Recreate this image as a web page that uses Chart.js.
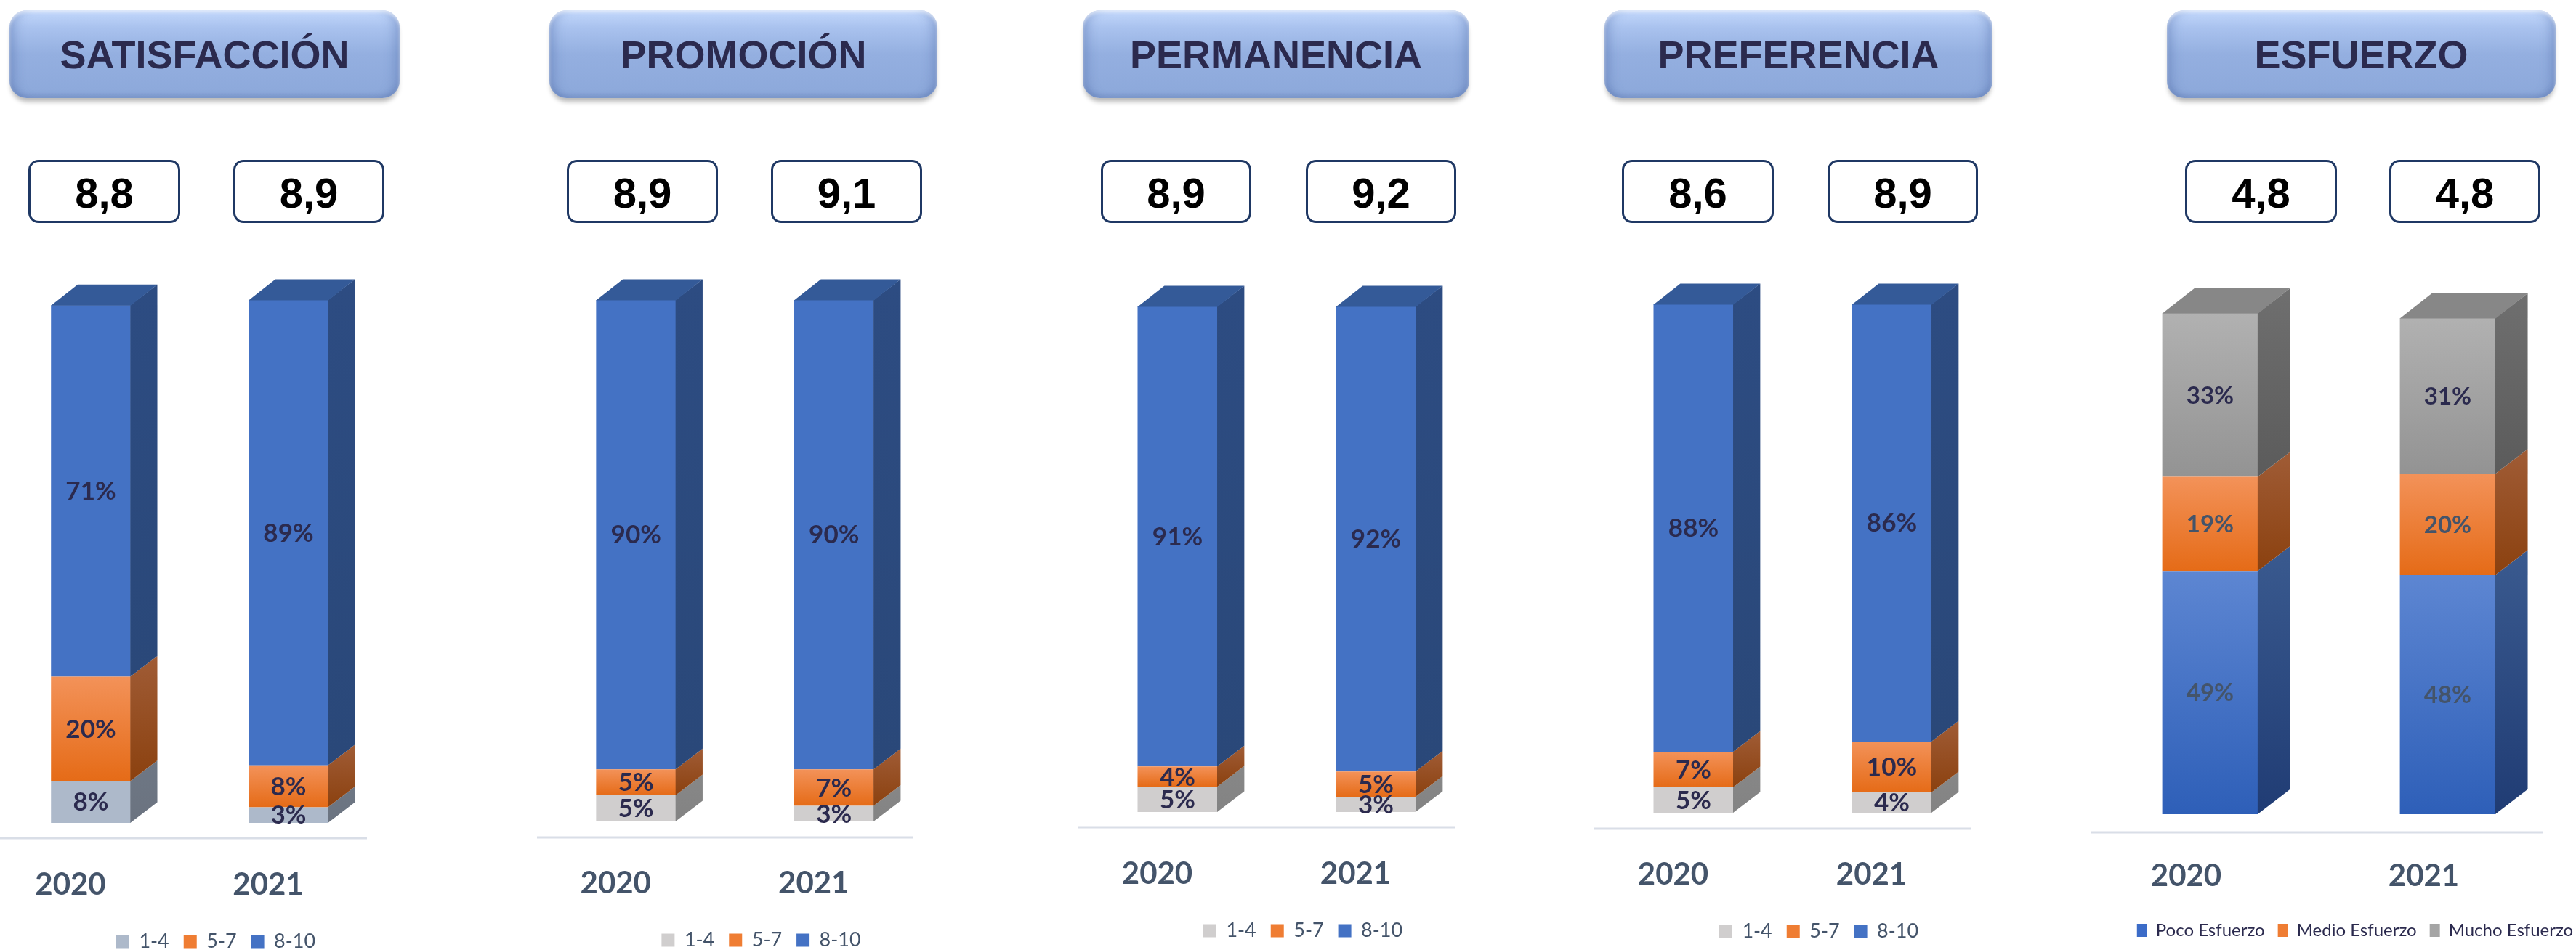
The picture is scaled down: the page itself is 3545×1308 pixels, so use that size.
<!DOCTYPE html>
<html>
<head>
<meta charset="utf-8">
<script src="https://cdn.jsdelivr.net/npm/chart.js@4.4.1/dist/chart.umd.min.js"></script>
<style>
  html, body { margin: 0; padding: 0; background: #fff; }
  body { position: relative; width: 3545px; height: 1308px; overflow: hidden; font-family: 'Liberation Sans', Arial, sans-serif; }
  .head {
    position: absolute; top: 14px; height: 121px; border-radius: 24px;
    background: linear-gradient(180deg, #c3d8fc 0%, #a9c2ee 20%, #94afe0 50%, #8ca8da 100%);
    box-shadow: 0 7px 6px -2px rgba(0,0,0,.28),
      inset 0 3px 4px rgba(255,255,255,.6),
      inset 0 -4px 6px rgba(70,100,160,.25),
      inset 16px 0 14px -8px rgba(80,110,170,.35),
      inset -16px 0 14px -8px rgba(80,110,170,.35);
    display: flex; align-items: center; justify-content: center;
    font-weight: bold; font-size: 54px; color: #2b2a4e;
  }
  .score {
    position: absolute; top: 220px; height: 87px; box-sizing: border-box;
    border: 3px solid #1f3864; border-radius: 14px; background: #fff;
    display: flex; align-items: center; justify-content: center; padding-top: 4px;
    font-weight: bold; font-size: 58px; color: #000;
  }
  canvas { position: absolute; top: 340px; }
</style>
</head>
<body>
<script>
// ---- data ----
const years = ['2020', '2021'];
const rangeLabels = ['1-4', '5-7', '8-10'];
const effortLabels = ['Poco Esfuerzo', 'Medio Esfuerzo', 'Mucho Esfuerzo'];
const titles = ['SATISFACCIÓN', 'PROMOCIÓN', 'PERMANENCIA', 'PREFERENCIA', 'ESFUERZO'];
const score2020 = [8.8, 8.9, 8.9, 8.6, 4.8];
const score2021 = [8.9, 9.1, 9.2, 8.9, 4.8];

const satisfaccion14 = [8, 3];
const satisfaccion57 = [20, 8];
const satisfaccion810 = [71, 89];

const promocion14 = [5, 3];
const promocion57 = [5, 7];
const promocion810 = [90, 90];

const permanencia14 = [5, 3];
const permanencia57 = [4, 5];
const permanencia810 = [91, 92];

const preferencia14 = [5, 4];
const preferencia57 = [7, 10];
const preferencia810 = [88, 86];

// 2021 bar reads a little off its rounded labels (48 / 20 / 31)
const esfuerzoPoco = [49, 48.2];
const esfuerzoMedio = [19, 20.4];
const esfuerzoMucho = [33, 31.4];

// ---- styles ----
const PAL = {
    blue: { front: ['#4472c4', '#4472c4'], side: ['#2d4c82', '#2a4879'], top: '#345a98', legend: '#4472c4' },
    orange: { front: ['#f39259', '#e56b17'], side: ['#a05c36', '#8b410f'], top: '#c0662a', legend: '#ef7d33' },
    slate: { front: ['#adb9ca', '#adb9ca'], side: ['#6e7784', '#6b7380'], top: '#8a95a5', legend: '#adb9ca' },
    silver: { front: ['#d0cece', '#d0cece'], side: ['#878787', '#838383'], top: '#a8a6a6', legend: '#d0cece' },
    grayGrad: { front: ['#b1b1b1', '#939393'], side: ['#6f6f6f', '#5b5b5b'], top: '#878787', legend: '#a5a5a5' },
    blueGrad: { front: ['#5d86d2', '#2e5fb8'], side: ['#3a5a8f', '#203c74'], top: '#3a5fa5', legend: '#3c6cc8' },
};
const NAVY = '#2b2a4e';
const SLATE_TXT = '#44546a';

const panels = [
    { series: [satisfaccion14, satisfaccion57, satisfaccion810], names: rangeLabels,
      colors: [PAL.slate, PAL.orange, PAL.blue], labelColors: [NAVY, NAVY, NAVY],
      head: [13, 550], boxes: [[39, 248], [321, 529]], area: [-11.5, 544, 413, 1133],
      shift: 28, floor: 21, labelSize: 35, legendBox: [18, 18], legendFont: 27, legendPad: 20, legendColor: SLATE_TXT },
    { series: [promocion14, promocion57, promocion810], names: rangeLabels,
      colors: [PAL.silver, PAL.orange, PAL.blue], labelColors: [NAVY, NAVY, NAVY],
      head: [756, 1290], boxes: [[780, 988], [1061, 1269]], area: [739, 545, 413, 1131],
      shift: 28, floor: 22, labelSize: 35, legendBox: [18, 18], legendFont: 27, legendPad: 20, legendColor: SLATE_TXT },
    { series: [permanencia14, permanencia57, permanencia810], names: rangeLabels,
      colors: [PAL.silver, PAL.orange, PAL.blue], labelColors: [NAVY, NAVY, NAVY],
      head: [1490, 2022], boxes: [[1515, 1722], [1797, 2004]], area: [1483.5, 546, 422, 1118],
      shift: 28, floor: 21, labelSize: 35, legendBox: [18, 18], legendFont: 27, legendPad: 20, legendColor: SLATE_TXT },
    { series: [preferencia14, preferencia57, preferencia810], names: rangeLabels,
      colors: [PAL.silver, PAL.orange, PAL.blue], labelColors: [NAVY, NAVY, NAVY],
      head: [2208, 2742], boxes: [[2232, 2441], [2515, 2722]], area: [2194, 546, 419, 1119],
      shift: 28, floor: 22, labelSize: 35, legendBox: [18, 18], legendFont: 27, legendPad: 20, legendColor: SLATE_TXT },
    { series: [esfuerzoPoco, esfuerzoMedio, esfuerzoMucho], names: effortLabels,
      colors: [PAL.blueGrad, PAL.orange, PAL.grayGrad], labelColors: [SLATE_TXT, SLATE_TXT, NAVY],
      head: [2982, 3517], boxes: [[3007, 3216], [3288, 3496]], area: [2878, 654, 438, 1121],
      shift: 33, floor: 25, labelSize: 33, legendBox: [14, 18], legendFont: 24, legendPad: 18, legendColor: NAVY },
];

const CANVAS_TOP = 340;
const X_AXIS_H = 130;

function fmtScore(v) {
    return v.toFixed(1).replace('.', ',');
}

function frontFill(pal) {
    return c => {
        const chart = c.chart;
        if (c.type !== 'data' || !chart.chartArea) return pal.front[0];
        const y = chart.scales.y;
        let lo = 0;
        for (let d = 0; d < c.datasetIndex; d++) lo += chart.data.datasets[d].data[c.dataIndex];
        const hi = lo + chart.data.datasets[c.datasetIndex].data[c.dataIndex];
        const g = chart.ctx.createLinearGradient(0, y.getPixelForValue(hi), 0, y.getPixelForValue(lo));
        g.addColorStop(0, pal.front[0]);
        g.addColorStop(1, pal.front[1]);
        return g;
    };
}

// side / top faces, floor edge and value labels
const bar3d = {
    id: 'bar3d',
    afterDatasetsDraw(chart) {
        const ctx = chart.ctx;
        const ds = chart.data.datasets;
        const area = chart.chartArea;
        const o = chart.options.plugins.bar3d;
        ctx.save();
        ctx.strokeStyle = '#d9dee7';
        ctx.lineWidth = 3;
        ctx.beginPath();
        ctx.moveTo(area.left - o.shift, area.bottom + o.floor);
        ctx.lineTo(area.right - o.shift, area.bottom + o.floor);
        ctx.stroke();

        for (let i = 0; i < chart.data.labels.length; i++) {
            let topIdx = -1;
            ds.forEach((d, k) => { if (d.data[i] > 0) topIdx = k; });
            ds.forEach((d, k) => {
                const el = chart.getDatasetMeta(k).data[i];
                const w = el.width, dx = w * 0.335, dy = w * 0.26;
                const l = el.x - w / 2, r = el.x + w / 2;
                const g = ctx.createLinearGradient(0, el.y - dy, 0, el.base);
                g.addColorStop(0, d.pal.side[0]);
                g.addColorStop(1, d.pal.side[1]);
                ctx.fillStyle = g;
                ctx.beginPath();
                ctx.moveTo(r - 0.5, el.y);
                ctx.lineTo(r + dx, el.y - dy);
                ctx.lineTo(r + dx, el.base - dy);
                ctx.lineTo(r - 0.5, el.base);
                ctx.closePath();
                ctx.fill();
                if (k === topIdx) {
                    ctx.fillStyle = d.pal.top;
                    ctx.beginPath();
                    ctx.moveTo(l, el.y + 0.5);
                    ctx.lineTo(r, el.y + 0.5);
                    ctx.lineTo(r + dx, el.y - dy);
                    ctx.lineTo(l + dx, el.y - dy);
                    ctx.closePath();
                    ctx.fill();
                }
            });
        }

        ctx.font = 'bold ' + o.labelSize + 'px Lato, "Liberation Sans", sans-serif';
        ctx.textAlign = 'center';
        ctx.textBaseline = 'middle';
        ds.forEach((d, k) => {
            chart.getDatasetMeta(k).data.forEach((el, i) => {
                ctx.fillStyle = d.labelColor;
                ctx.fillText(Math.round(d.data[i]) + '%', el.x, (el.y + el.base) / 2 + 1);
            });
        });
        ctx.restore();
    }
};

function addDiv(cls, left, width, text) {
    const div = document.createElement('div');
    div.className = cls;
    div.style.left = left + 'px';
    div.style.width = width + 'px';
    div.textContent = text;
    document.body.appendChild(div);
}

function makePanel(p, idx) {
    addDiv('head', p.head[0], p.head[1] - p.head[0], titles[idx]);
    addDiv('score', p.boxes[0][0], p.boxes[0][1] - p.boxes[0][0], fmtScore(score2020[idx]));
    addDiv('score', p.boxes[1][0], p.boxes[1][1] - p.boxes[1][0], fmtScore(score2021[idx]));

    const [left, areaW, areaTop, areaBottom] = p.area;
    const legendH = Math.max(p.legendFont, p.legendBox[1]) + p.legendPad + 10;
    const W = areaW + 72;
    const H = (areaBottom - CANVAS_TOP) + X_AXIS_H + legendH;
    const cv = document.createElement('canvas');
    cv.width = W;
    cv.height = H;
    cv.style.left = left + 'px';
    cv.style.width = W + 'px';
    cv.style.height = H + 'px';
    document.body.appendChild(cv);

    new Chart(cv, {
        type: 'bar',
        data: {
            labels: years,
            datasets: p.series.map((vals, i) => ({
                label: p.names[i],
                data: vals,
                pal: p.colors[i],
                labelColor: p.labelColors[i],
                backgroundColor: frontFill(p.colors[i]),
                borderWidth: 0,
                categoryPercentage: 1,
                barPercentage: 0.403,
                clip: false,
            })),
        },
        options: {
            responsive: false,
            animation: false,
            devicePixelRatio: 1,
            layout: { padding: { top: areaTop - CANVAS_TOP, left: 0, right: 0, bottom: 0 } },
            plugins: {
                tooltip: { enabled: false },
                legend: {
                    position: 'bottom',
                    labels: {
                        boxWidth: p.legendBox[0],
                        boxHeight: p.legendBox[1],
                        padding: p.legendPad,
                        color: p.legendColor,
                        font: { family: 'Lato, "Liberation Sans", sans-serif', size: p.legendFont },
                        generateLabels: chart => chart.data.datasets.map((d, i) => ({
                            text: d.label,
                            fillStyle: d.pal.legend,
                            strokeStyle: d.pal.legend,
                            lineWidth: 0,
                            fontColor: p.legendColor,
                            datasetIndex: i,
                            hidden: false,
                        })),
                    },
                },
                bar3d: { shift: p.shift, floor: p.floor, labelSize: p.labelSize },
            },
            scales: {
                x: {
                    stacked: true,
                    offset: true,
                    grid: { display: false, drawTicks: false },
                    border: { display: false },
                    ticks: {
                        color: SLATE_TXT,
                        font: { family: 'Lato, "Liberation Sans", sans-serif', size: 42, weight: 'bold' },
                        padding: 60,
                        labelOffset: -p.shift,
                        maxRotation: 0,
                    },
                    afterFit: s => { s.height = X_AXIS_H; },
                },
                y: {
                    stacked: true,
                    min: 0,
                    max: 100,
                    position: 'right',
                    grid: { display: false, drawTicks: false },
                    border: { display: false },
                    ticks: { display: false },
                    afterFit: s => { s.width = 72; },
                },
            },
        },
        plugins: [bar3d],
    });
}

panels.forEach(makePanel);
</script>
</body>
</html>
